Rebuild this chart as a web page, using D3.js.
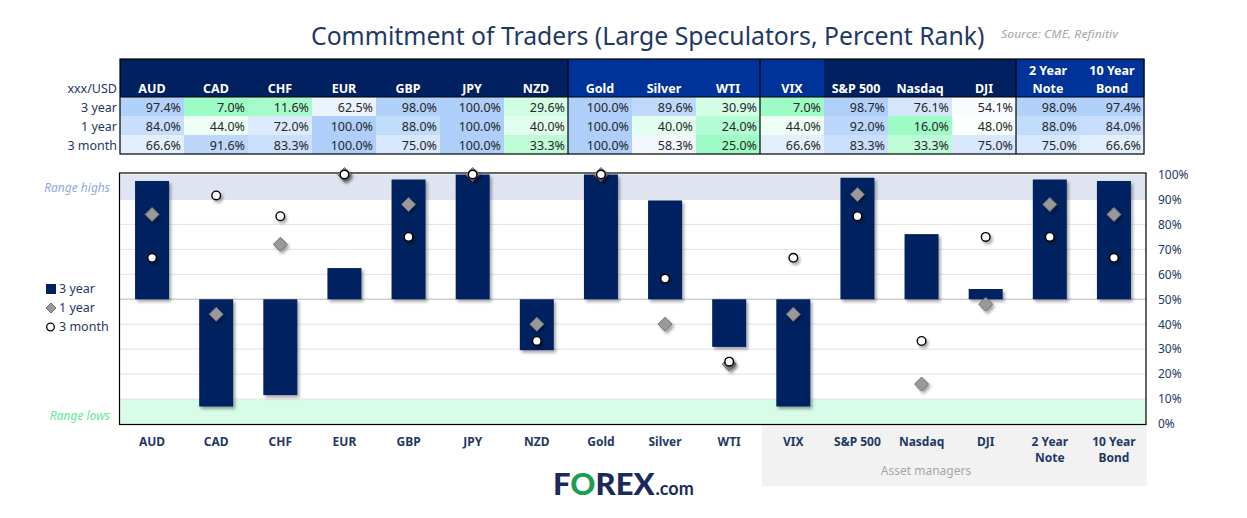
<!DOCTYPE html>
<html>
<head>
<meta charset="utf-8">
<script src="https://cdn.jsdelivr.net/npm/d3@7"></script>
<style>
  html, body { margin: 0; padding: 0; background: #fff; }
  svg { display: block; font-family: "Noto Sans", "Open Sans", sans-serif; }
</style>
</head>
<body>
<svg id="chart" width="1247" height="518"></svg>
<script>
// ---------- DATA ----------
const categories = ["AUD","CAD","CHF","EUR","GBP","JPY","NZD","Gold","Silver","WTI","VIX","S&P 500","Nasdaq","DJI","2 Year Note","10 Year Bond"];
const headerLines = [["AUD"],["CAD"],["CHF"],["EUR"],["GBP"],["JPY"],["NZD"],["Gold"],["Silver"],["WTI"],["VIX"],["S&P 500"],["Nasdaq"],["DJI"],["2 Year","Note"],["10 Year","Bond"]];
const threeYear  = [97.4, 7.0, 11.6, 62.5, 98.0, 100.0, 29.6, 100.0, 89.6, 30.9, 7.0, 98.7, 76.1, 54.1, 98.0, 97.4];
const oneYear    = [84.0, 44.0, 72.0, 100.0, 88.0, 100.0, 40.0, 100.0, 40.0, 24.0, 44.0, 92.0, 16.0, 48.0, 88.0, 84.0];
const threeMonth = [66.6, 91.6, 83.3, 100.0, 75.0, 100.0, 33.3, 100.0, 58.3, 25.0, 66.6, 83.3, 33.3, 75.0, 75.0, 66.6];
const rowLabels  = ["3 year", "1 year", "3 month"];
const yTicks     = [0,10,20,30,40,50,60,70,80,90,100];
const headerGroup = [0,0,0,0,0,0,0,1,1,1,1,0,0,0,1,1]; // header shade group
const separatorsAfter = [6, 9, 13];

// ---------- SETUP ----------
const svg = d3.select("#chart");
const navy = "#002060", blue2 = "#003399", textNavy = "#1f3864";

const defs = svg.append("defs");
const f = defs.append("filter").attr("id","shadow").attr("x","-30%").attr("y","-30%").attr("width","180%").attr("height","180%");
f.append("feDropShadow").attr("dx",2).attr("dy",2.5).attr("stdDeviation",1.8).attr("flood-color","#000").attr("flood-opacity",0.35);

// Title
const title = svg.append("text").attr("x",311).attr("y",45)
  .attr("font-size",26).attr("fill",textNavy)
  .text("Commitment of Traders (Large Speculators, Percent Rank)");
{
  const natural = title.node().getComputedTextLength();
  const target = 674;
  if (natural > target) {
    title.attr("font-size", 26 * target / natural);
    title.attr("transform", `translate(311,45) scale(1,${natural/target}) translate(-311,-45)`);
  }
}
svg.append("text").attr("x",1001).attr("y",38)
  .attr("font-size",10).attr("font-style","italic").attr("fill","#a6a6a6")
  .attr("textLength",117).attr("lengthAdjust","spacingAndGlyphs")
  .text("Source: CME, Refinitiv");

// ---------- TABLE ----------
const tx = d3.scaleBand().domain(categories).range([120,1144]).padding(0);
const headTop = 59, headBot = 97, rowH = 19;
const tbl = svg.append("g");

tbl.selectAll("rect.hd").data(categories).join("rect")
  .attr("x", d => tx(d)).attr("y", headTop)
  .attr("width", tx.bandwidth()+0.5).attr("height", headBot-headTop)
  .attr("fill", (d,i) => headerGroup[i] ? blue2 : navy);

headerLines.forEach((lines, i) => {
  const cx = tx(categories[i]) + tx.bandwidth()/2;
  lines.forEach((ln, j) => {
    const yy = lines.length === 1 ? 93 : (j === 0 ? 75 : 93);
    tbl.append("text").attr("x", cx).attr("y", yy).attr("text-anchor","middle")
      .attr("font-size",12.5).attr("font-weight","bold").attr("fill","#fff").text(ln);
  });
});

tbl.append("text").attr("x",117).attr("y",93).attr("text-anchor","end")
  .attr("font-size",12.5).attr("fill",textNavy).text("xxx/USD");

const rows = [threeYear, oneYear, threeMonth];
rows.forEach((vals, r) => {
  const mn = d3.min(vals), mx = d3.max(vals);
  const col = d3.scaleLinear().domain([mn, 50, mx]).range(["#9dfbc5","#ffffff","#aecffa"]).clamp(true);
  const y0 = headBot + r*rowH;
  tbl.selectAll(null).data(vals).join("rect")
    .attr("x", (d,i) => tx(categories[i])).attr("y", y0)
    .attr("width", tx.bandwidth()+0.5).attr("height", rowH)
    .attr("fill", d => col(d));
  tbl.selectAll(null).data(vals).join("text")
    .attr("x", (d,i) => tx(categories[i]) + tx.bandwidth() - 3)
    .attr("y", y0 + 15).attr("text-anchor","end")
    .attr("font-size",12.5).attr("fill","#262626")
    .text(d => d.toFixed(1) + "%");
  tbl.append("text").attr("x",117).attr("y", y0 + 15).attr("text-anchor","end")
    .attr("font-size",12.5).attr("fill",textNavy).text(rowLabels[r]);
});
// borders
tbl.append("rect").attr("x",120).attr("y",headTop).attr("width",1024).attr("height",headBot+3*rowH-headTop)
  .attr("fill","none").attr("stroke","#000").attr("stroke-width",1.2);
tbl.append("line").attr("x1",120).attr("x2",1144).attr("y1",headBot).attr("y2",headBot).attr("stroke","#000").attr("stroke-width",1.2);
separatorsAfter.forEach(i => {
  const sx = tx(categories[i]) + tx.bandwidth();
  tbl.append("line").attr("x1",sx).attr("x2",sx).attr("y1",headTop).attr("y2",headBot+3*rowH)
    .attr("stroke","#000").attr("stroke-width",1.2);
});

// ---------- CHART ----------
const pLeft = 120, pRight = 1146, pTop = 173, pBottom = 424;
const x = d3.scaleBand().domain(categories).range([pLeft, pRight]).paddingInner(0.47).paddingOuter(0.235);
const y = d3.scaleLinear().domain([0,100]).range([424, 174.5]);

// asset managers grey box
svg.append("rect").attr("x",762).attr("y",pBottom).attr("width",385).attr("height",62).attr("fill","#f2f2f2");
svg.append("text").attr("x",926).attr("y",475).attr("text-anchor","middle")
  .attr("font-size",12).attr("fill","#a6a6a6").text("Asset managers");

// bands
svg.append("rect").attr("x",pLeft).attr("y",y(100)).attr("width",pRight-pLeft).attr("height",y(90)-y(100)).attr("fill","#dee4f0");
svg.append("rect").attr("x",pLeft).attr("y",y(10)).attr("width",pRight-pLeft).attr("height",y(0)-y(10)).attr("fill","#d7fce7");

// gridlines
svg.append("g").selectAll("line").data(yTicks.filter(t => t > 0 && t < 100)).join("line")
  .attr("x1",pLeft).attr("x2",pRight).attr("y1",d => y(d)).attr("y2",d => y(d))
  .attr("stroke", d => d === 50 ? "#cfcfcf" : "#e3e3e3").attr("stroke-width", d => d === 50 ? 1.5 : 1);

// frame
svg.append("rect").attr("x",pLeft-0.5).attr("y",pTop).attr("width",pRight-pLeft+0.5).attr("height",pBottom-pTop+0.5)
  .attr("fill","none").attr("stroke","#000").attr("stroke-width",1.2);

// right axis
const yAxis = d3.axisRight(y).tickValues(yTicks).tickFormat(d => d + "%").tickSize(0).tickPadding(0);
const ax = svg.append("g").attr("transform",`translate(1158,0)`).call(yAxis);
ax.select(".domain").remove();
ax.selectAll("text").attr("font-size",12).attr("fill",textNavy).attr("font-family","Noto Sans, sans-serif");

// bars
svg.append("g").selectAll("rect").data(threeYear).join("rect")
  .attr("x",(d,i) => x(categories[i])).attr("width", x.bandwidth())
  .attr("y", d => y(Math.max(d,50))).attr("height", d => Math.abs(y(d)-y(50)))
  .attr("fill", navy).attr("filter","url(#shadow)");

// diamonds (1 year)
const dsz = 7;
svg.append("g").selectAll("path").data(oneYear).join("path")
  .attr("transform",(d,i) => `translate(${x(categories[i]) + x.bandwidth()/2},${y(d)})`)
  .attr("d", `M0,${-dsz}L${dsz},0L0,${dsz}L${-dsz},0Z`)
  .attr("fill","#999999").attr("stroke","#6f6f6f").attr("stroke-width",1)
  .attr("filter","url(#shadow)");

// circles (3 month)
svg.append("g").selectAll("circle").data(threeMonth).join("circle")
  .attr("cx",(d,i) => x(categories[i]) + x.bandwidth()/2).attr("cy", d => y(d)).attr("r",4.3)
  .attr("fill","#fff").attr("stroke","#000").attr("stroke-width",1.4)
  .attr("filter","url(#shadow)");

// x labels
headerLines.forEach((lines, i) => {
  const cx = x(categories[i]) + x.bandwidth()/2;
  lines.forEach((ln, j) => {
    svg.append("text").attr("x",cx).attr("y",446 + j*16).attr("text-anchor","middle")
      .attr("font-size",12).attr("font-weight","bold").attr("fill",textNavy).text(ln);
  });
});

// range labels
svg.append("text").attr("x",110).attr("y",192).attr("text-anchor","end")
  .attr("font-size",12).attr("font-style","italic").attr("fill","#8eaadb").text("Range highs");
svg.append("text").attr("x",110).attr("y",420).attr("text-anchor","end")
  .attr("font-size",12).attr("font-style","italic").attr("fill","#5fe89a").text("Range lows");

// legend
const lg = svg.append("g");
lg.append("rect").attr("x",46).attr("y",284).attr("width",10).attr("height",10).attr("fill",navy);
lg.append("path").attr("transform","translate(51,308)").attr("d","M0,-5L5,0L0,5L-5,0Z").attr("fill","#999").attr("stroke","#6f6f6f");
lg.append("circle").attr("cx",50.5).attr("cy",327).attr("r",3.8).attr("fill","#fff").attr("stroke","#000").attr("stroke-width",1.3);
[["3 year",293],["1 year",312],["3 month",331]].forEach(([t,yy]) => {
  lg.append("text").attr("x",59).attr("y",yy).attr("font-size",12.5).attr("fill",textNavy).text(t);
});

// logo
const logo = svg.append("text").attr("x",553).attr("y",495).attr("font-weight",900).attr("font-family","Lato, Roboto, sans-serif");
logo.append("tspan").attr("font-size",31).attr("fill","#1b2a5c").text("F");
logo.append("tspan").attr("font-size",31).attr("fill","#1e9e50").text("O");
logo.append("tspan").attr("font-size",31).attr("fill","#1b2a5c").text("REX");
logo.append("tspan").attr("font-size",18).attr("font-weight",700).attr("fill","#1b2a5c").attr("dx",1).text(".com");
</script>
</body>
</html>
